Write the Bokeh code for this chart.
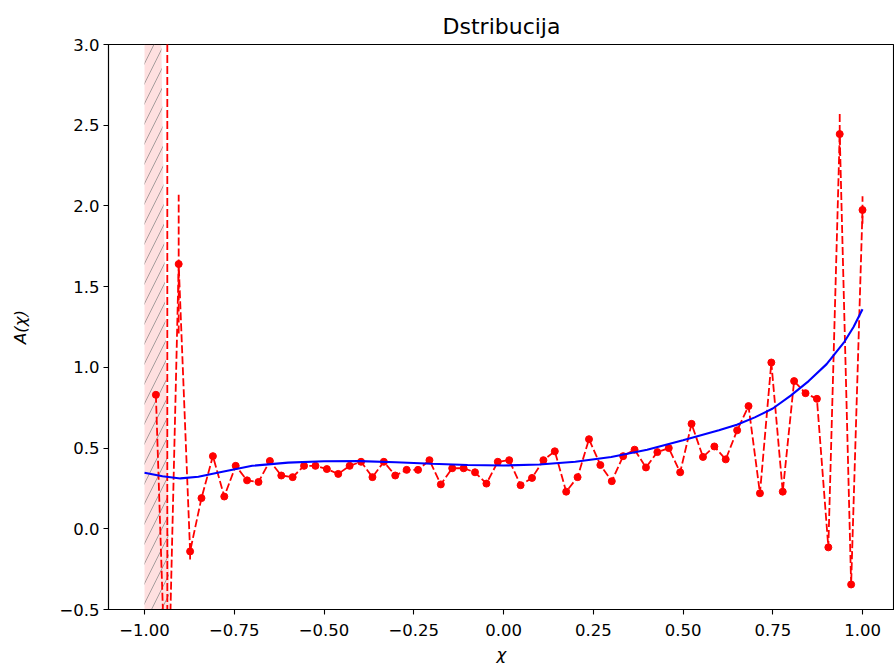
import numpy as np
from bokeh.plotting import figure
from bokeh.models import Range1d, FixedTicker
from bokeh.embed import file_html
from bokeh.resources import INLINE

# ---------------- data ----------------
x_vals = [-1.0000, -0.9683, -0.9365, -0.9048, -0.8730, -0.8413, -0.8095, -0.7778,
          -0.7460, -0.7143, -0.6825, -0.6508, -0.6190, -0.5873, -0.5556, -0.5238,
          -0.4921, -0.4603, -0.4286, -0.3968, -0.3651, -0.3333, -0.3016, -0.2698,
          -0.2381, -0.2063, -0.1746, -0.1429, -0.1111, -0.0794, -0.0476, -0.0159,
          0.0159, 0.0476, 0.0794, 0.1111, 0.1429, 0.1746, 0.2063, 0.2381,
          0.2698, 0.3016, 0.3333, 0.3651, 0.3968, 0.4286, 0.4603, 0.4921,
          0.5238, 0.5556, 0.5873, 0.6190, 0.6508, 0.6825, 0.7143, 0.7460,
          0.7778, 0.8095, 0.8413, 0.8730, 0.9048, 0.9365, 0.9683, 1.0000]

a_vals = [np.nan, 0.83, -1.34, 1.64, -0.14, 0.19, 0.45, 0.20,
          0.39, 0.30, 0.29, 0.42, 0.33, 0.32, 0.39, 0.39,
          0.37, 0.34, 0.39, 0.415, 0.32, 0.415, 0.33, 0.365,
          0.365, 0.425, 0.275, 0.375, 0.375, 0.35, 0.28, 0.415,
          0.425, 0.27, 0.315, 0.425, 0.48, 0.23, 0.32, 0.555,
          0.395, 0.295, 0.45, 0.49, 0.38, 0.475, 0.50, 0.35,
          0.65, 0.445, 0.51, 0.43, 0.61, 0.76, 0.22, 1.03,
          0.23, 0.915, 0.84, 0.805, -0.115, 2.445, -0.345, 1.975]

err_low = [0.0, 0.0, 0.0, 0.43, 0.05, 0.0, 0.0, 0.0,
           0.0, 0.0, 0.0, 0.0, 0.0, 0.0, 0.0, 0.0,
           0.0, 0.0, 0.0, 0.0, 0.0, 0.0, 0.0, 0.0,
           0.0, 0.0, 0.0, 0.0, 0.0, 0.0, 0.0, 0.0,
           0.0, 0.0, 0.0, 0.0, 0.0, 0.0, 0.0, 0.0,
           0.0, 0.0, 0.0, 0.0, 0.0, 0.0, 0.0, 0.0,
           0.0, 0.0, 0.0, 0.0, 0.0, 0.0, 0.0, 0.0,
           0.0, 0.0, 0.0, 0.0, 0.0, 0.13, 0.0, 0.085]

err_high = [0.0, 0.0, 4.9, 0.43, 0.05, 0.0, 0.0, 0.0,
            0.0, 0.0, 0.0, 0.0, 0.0, 0.0, 0.0, 0.0,
            0.0, 0.0, 0.0, 0.0, 0.0, 0.0, 0.0, 0.0,
            0.0, 0.0, 0.0, 0.0, 0.0, 0.0, 0.0, 0.0,
            0.0, 0.0, 0.0, 0.0, 0.0, 0.0, 0.0, 0.0,
            0.0, 0.0, 0.0, 0.0, 0.0, 0.0, 0.0, 0.0,
            0.0, 0.0, 0.0, 0.0, 0.0, 0.0, 0.0, 0.0,
            0.0, 0.0, 0.0, 0.0, 0.0, 0.13, 0.0, 0.085]

fit_x = [-1.0, -0.95, -0.9, -0.85, -0.8, -0.7, -0.6, -0.5, -0.4, -0.3, -0.2, -0.1,
         0.0, 0.1, 0.2, 0.3, 0.4, 0.5, 0.6, 0.65, 0.7, 0.75, 0.8, 0.85, 0.9,
         0.95, 0.975, 1.0]
fit_y = [0.347, 0.325, 0.312, 0.322, 0.345, 0.39, 0.41, 0.418, 0.419, 0.412, 0.403, 0.395,
         0.392, 0.398, 0.415, 0.445, 0.49, 0.548, 0.61, 0.645, 0.69, 0.745, 0.825, 0.915, 1.02,
         1.16, 1.25, 1.36]

band_x = [-1.0, -1.0, -0.953, -0.930]
band_y = [-0.5, 3.0, 3.0, -0.5]

x_ticks = [-1.0, -0.75, -0.5, -0.25, 0.0, 0.25, 0.5, 0.75, 1.0]
x_tick_labels = ["\u22121.00", "\u22120.75", "\u22120.50", "\u22120.25", "0.00",
                 "0.25", "0.50", "0.75", "1.00"]
y_ticks = [-0.5, 0.0, 0.5, 1.0, 1.5, 2.0, 2.5, 3.0]
y_tick_labels = ["\u22120.5", "0.0", "0.5", "1.0", "1.5", "2.0", "2.5", "3.0"]

title_text = "Dstribucija"
x_label = "\u03c7"
y_label = "A(\u03c7)"

# ---------------- figure ----------------
FONT = "DejaVu Sans"
p = figure(width=894, height=668, output_backend="svg", toolbar_location=None,
           x_range=Range1d(-1.1003, 1.0891), y_range=Range1d(-0.5, 3.0),
           min_border_left=108, min_border_right=0, min_border_top=44,
           min_border_bottom=59)
p.background_fill_color = "white"
p.border_fill_color = "white"
p.outline_line_color = "black"
p.outline_line_width = 1.1
p.grid.visible = False

p.title.text = title_text
p.title.align = "center"
p.title.text_font = FONT
p.title.text_font_size = "22px"
p.title.text_font_style = "normal"
p.title.text_color = "black"
p.title.standoff = 12

for ax, ticks, labels in ((p.xaxis[0], x_ticks, x_tick_labels),
                          (p.yaxis[0], y_ticks, y_tick_labels)):
    ax.ticker = FixedTicker(ticks=ticks)
    ax.major_label_overrides = {t: l for t, l in zip(ticks, labels)}
    ax.major_tick_in = 0
    ax.major_tick_out = 5
    ax.minor_tick_in = 0
    ax.minor_tick_out = 0
    ax.axis_line_color = "black"
    ax.axis_line_width = 1.1
    ax.major_tick_line_color = "black"
    ax.major_tick_line_width = 1.1
    ax.major_label_text_font = FONT
    ax.major_label_text_font_size = "16.5px"
    ax.major_label_text_color = "black"
    ax.axis_label_text_font = FONT
    ax.axis_label_text_font_size = "16.5px"
    ax.axis_label_text_font_style = "italic"
    ax.axis_label_text_color = "black"

p.xaxis[0].axis_label = x_label
p.yaxis[0].axis_label = y_label
p.xaxis[0].major_label_standoff = 9
p.xaxis[0].axis_label_standoff = 6
p.yaxis[0].major_label_standoff = 4
p.yaxis[0].axis_label_standoff = 26

# hatched shaded band
p.patch(band_x, band_y, fill_color="#ff0000", fill_alpha=0.12, line_color=None,
        hatch_pattern="/", hatch_color="#808080", hatch_alpha=0.7,
        hatch_scale=20, hatch_weight=1)

# error bars
xa = np.array(x_vals)
ya = np.array(a_vals, dtype=float)
lo = ya - np.array(err_low)
hi = ya + np.array(err_high)
mask = (~np.isnan(ya)) & ((np.array(err_low) + np.array(err_high)) > 0)
p.segment(x0=xa[mask], y0=lo[mask], x1=xa[mask], y1=hi[mask],
          line_color="red", line_width=1.8, line_dash="8 3")

# data line + markers
pts = ~np.isnan(ya)
p.line(xa, ya, line_color="red", line_width=1.8, line_dash="8 3")
p.scatter(xa[pts], ya[pts], size=7, fill_color="red", line_color="red")

# fit curve
p.line(fit_x, fit_y, line_color="blue", line_width=2.1)

open("out.html", "w").write(file_html(p, INLINE))
